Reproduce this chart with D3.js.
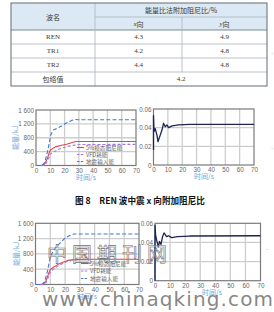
<!DOCTYPE html>
<html>
<head>
<meta charset="utf-8">
<script src="https://cdn.jsdelivr.net/npm/d3@7"></script>
<style>
  html, body { margin: 0; padding: 0; background: #fff; }
  svg { display: block; }
</style>
</head>
<body>
<svg id="fig" width="274" height="312"></svg>
<script>
// table values
const tableHead = ['能量比法附加阻尼比/%'];
const tableCols = ['x向', 'y向'];
const waveNames = ['REN', 'TR1', 'TR2'];
const ratioX = ['4.3', '4.2', '4.4'];
const ratioY = ['4.9', '4.8', '4.8'];
const envelope = '4.2';

// time axis / ticks
const timeTicks = [0, 10, 20, 30, 40, 50, 60, 70];
const energyTicks = [0, 400, 800, 1200, 1600];
const dampTicks = [0, 0.02, 0.04, 0.06];
const seriesNames = ['5%模态阻尼能', 'VFD耗能', '地震输入能'];

// REN x: energy curves (kJ)
const tInput1 = [0, 4, 6, 7.5, 8.6, 10.3, 12.1, 15.6, 18, 21.5, 25, 27.3, 30, 70];
const vInput1 = [0, 0, 80, 300, 500, 880, 1020, 1090, 1140, 1230, 1300, 1325, 1320, 1320];
const tDamp1 = [0, 4, 6, 8, 9, 10, 12, 14, 18, 22, 26, 28, 70];
const vDamp1 = [0, 0, 40, 200, 340, 440, 500, 545, 585, 620, 670, 690, 690];
const tVfd1 = [0, 5, 7, 9, 10, 12, 15, 18, 22, 26, 30, 70];
const vVfd1 = [0, 0, 60, 220, 320, 390, 450, 500, 550, 580, 605, 610];

// REN x: additional damping ratio
const tRatio1 = [0, 0, 0.4, 1.2, 2.4, 3.1, 4.7, 6, 7, 8.2, 9.3, 10.5, 13, 17.5, 25, 70];
const vRatio1 = [0.016, 0.053, 0.036, 0.039, 0.032, 0.025, 0.032, 0.038, 0.0447, 0.041, 0.043, 0.040, 0.042, 0.043, 0.0435, 0.0435];

// second set (lower panels)
const tInput2 = [0, 4, 6, 8, 10, 12, 14, 17, 20, 23, 26, 70];
const vInput2 = [0, 0, 60, 330, 720, 880, 980, 1100, 1210, 1280, 1320, 1320];
const tDamp2 = [0, 5, 7, 9, 10, 12, 15, 18, 22, 26, 30, 70];
const vDamp2 = [0, 0, 80, 300, 390, 450, 520, 575, 630, 650, 660, 660];
const tVfd2 = [0, 5, 7, 9, 10, 12, 15, 18, 22, 26, 30, 70];
const vVfd2 = [0, 0, 40, 220, 320, 400, 480, 545, 610, 640, 655, 655];

const tRatio2 = [0, 0, 0.4, 1.1, 2.2, 3, 4, 5, 6, 7.7, 9, 11, 15, 23, 70];
const vRatio2 = [0, 0.058, 0.048, 0.0425, 0.0355, 0.041, 0.038, 0.046, 0.050, 0.046, 0.047, 0.045, 0.046, 0.0467, 0.047];

const svg = d3.select('#fig');
const cjk = '"Noto Sans CJK SC", "Noto Sans", sans-serif';
const serif = '"Liberation Serif", "DejaVu Serif", serif';
const sans = '"Liberation Sans", Arial, sans-serif';

svg.append('rect').attr('width', 274).attr('height', 312).attr('fill', '#fff');

// ---------- table ----------
const colX = [11, 95, 182, 267];
const rowY = [3, 17, 30, 44, 58, 72, 86];
const tbl = svg.append('g');

tbl.append('rect')
  .attr('x', colX[0]).attr('y', rowY[0])
  .attr('width', colX[3] - colX[0]).attr('height', rowY[2] - rowY[0])
  .attr('fill', '#dce9f5');

const hLines = [
  [colX[1], colX[3], rowY[1]],
  [colX[0], colX[3], rowY[2]],
  [colX[0], colX[3], rowY[3]],
  [colX[0], colX[3], rowY[4]],
  [colX[0], colX[3], rowY[5]],
];
tbl.selectAll('.hl').data(hLines).enter().append('line')
  .attr('x1', (d) => d[0]).attr('x2', (d) => d[1])
  .attr('y1', (d) => d[2]).attr('y2', (d) => d[2])
  .attr('stroke', (d, i) => (i === 1 ? '#7d8a96' : '#a9b3bc'))
  .attr('stroke-width', (d, i) => (i === 1 ? 1.2 : 0.8));

const vLines = [
  [colX[1], rowY[0], rowY[6]],
  [colX[2], rowY[1], rowY[5]],
];
tbl.selectAll('.vl').data(vLines).enter().append('line')
  .attr('x1', (d) => d[0]).attr('x2', (d) => d[0])
  .attr('y1', (d) => d[1]).attr('y2', (d) => d[2])
  .attr('stroke', '#a9b3bc').attr('stroke-width', 0.8);

tbl.append('rect')
  .attr('x', colX[0]).attr('y', rowY[0])
  .attr('width', colX[3] - colX[0]).attr('height', rowY[6] - rowY[0])
  .attr('fill', 'none').attr('stroke', '#6f7880').attr('stroke-width', 1.1);

const cellText = (x, y, txt, font, italicLead) => {
  const t = tbl.append('text')
    .attr('x', x).attr('y', y)
    .attr('text-anchor', 'middle')
    .attr('dominant-baseline', 'central')
    .attr('font-family', font)
    .attr('font-size', 7)
    .attr('fill', '#3a3a3a');
  if (italicLead) {
    t.append('tspan').attr('font-style', 'italic').attr('font-family', serif).text(txt[0]);
    t.append('tspan').text(txt.slice(1));
  } else {
    t.text(txt);
  }
};

const midC = (a, b) => (colX[a] + colX[b]) / 2;
const midR = (a, b) => (rowY[a] + rowY[b]) / 2;

cellText(midC(0, 1), midR(0, 2), '波名', cjk);
cellText(midC(1, 3), midR(0, 1), tableHead[0], cjk);
cellText(midC(1, 2), midR(1, 2), tableCols[0], cjk, true);
cellText(midC(2, 3), midR(1, 2), tableCols[1], cjk, true);
waveNames.forEach((n, i) => {
  cellText(midC(0, 1), midR(i + 2, i + 3), n, serif);
  cellText(midC(1, 2), midR(i + 2, i + 3), ratioX[i], serif);
  cellText(midC(2, 3), midR(i + 2, i + 3), ratioY[i], serif);
});
cellText(midC(0, 1), midR(5, 6), '包络值', cjk);
cellText(midC(1, 3), midR(5, 6), envelope, serif);

// ---------- panels ----------
const BLUE = '#4a78cf';
const RED = '#e0464f';
const PURPLE = '#a57ad8';
const NAVY = '#1f2552';
const LABEL = '#6ea6dc';

const zip = (t, v) => t.map((d, i) => ({ t: d, v: v[i] }));

function drawPanel(cfg) {
  const { box } = cfg;
  const g = svg.append('g');
  const x = d3.scaleLinear().domain([0, 70]).range([box.l, box.r]);
  const y = d3.scaleLinear().domain([0, cfg.yMax]).range([box.b, box.t]);

  g.selectAll('.gx').data(timeTicks.slice(1, -1)).enter().append('line')
    .attr('x1', (d) => x(d)).attr('x2', (d) => x(d))
    .attr('y1', box.t).attr('y2', box.b)
    .attr('stroke', '#cdcdcd').attr('stroke-width', 1.3);
  g.selectAll('.gy').data(cfg.yTicks.slice(1, -1)).enter().append('line')
    .attr('x1', box.l).attr('x2', box.r)
    .attr('y1', (d) => y(d)).attr('y2', (d) => y(d))
    .attr('stroke', '#cdcdcd').attr('stroke-width', 1.3);

  g.append('rect')
    .attr('x', box.l).attr('y', box.t)
    .attr('width', box.r - box.l).attr('height', box.b - box.t)
    .attr('fill', 'none').attr('stroke', '#7a7a7a').attr('stroke-width', 1.2);

  const line = d3.line().x((d) => x(d.t)).y((d) => y(d.v));
  cfg.lines.forEach((s) => {
    g.append('path')
      .attr('d', line(zip(s.t, s.v)))
      .attr('fill', 'none')
      .attr('stroke', s.color)
      .attr('stroke-width', s.width || 1.1)
      .attr('stroke-dasharray', s.dash || null)
      .attr('stroke-linejoin', 'round');
  });

  const xAxis = g.append('g')
    .attr('transform', `translate(0,${box.b})`)
    .call(d3.axisBottom(x).tickValues(timeTicks).tickSize(0).tickPadding(3));
  const yAxis = g.append('g')
    .attr('transform', `translate(${box.l},0)`)
    .call(d3.axisLeft(y).tickValues(cfg.yTicks).tickSize(0).tickPadding(2).tickFormat(cfg.yFmt));
  g.selectAll('.domain').remove();
  [xAxis, yAxis].forEach((a) => a.selectAll('text')
    .attr('font-family', sans).attr('font-size', 6.3).attr('fill', '#666'));

  g.append('text')
    .attr('x', cfg.xLabelX).attr('y', box.b + 14)
    .attr('text-anchor', 'middle')
    .attr('font-family', cjk).attr('font-size', 7).attr('fill', LABEL)
    .text('时间/s');

  if (cfg.yLabel) {
    g.append('text')
      .attr('transform', `translate(${cfg.yLabelX},${(box.t + box.b) / 2}) rotate(-90)`)
      .attr('text-anchor', 'middle').attr('dominant-baseline', 'central')
      .attr('font-family', cjk).attr('font-size', 7).attr('fill', LABEL)
      .text(cfg.yLabel);
  }

  if (cfg.legend) {
    const lg = cfg.legend;
    cfg.lines.forEach((s, i) => {
      const yy = lg.y + i * lg.dy;
      g.append('line')
        .attr('x1', lg.x).attr('x2', lg.x + 7)
        .attr('y1', yy).attr('y2', yy)
        .attr('stroke', s.color).attr('stroke-width', 1.1)
        .attr('stroke-dasharray', s.dash ? '2.5,1.2' : null);
      g.append('text')
        .attr('x', lg.x + 9).attr('y', yy)
        .attr('dominant-baseline', 'central')
        .attr('font-family', cjk).attr('font-size', 5.6).attr('fill', '#666')
        .text(seriesNames[i]);
    });
  }
}

const fmtEnergy = (d) => (d >= 1000 ? d3.format(',')(d).replace(',', ' ') : String(d));
const fmtRatio = (d) => (d === 0 ? '0' : d3.format('.2f')(d));

drawPanel({
  box: { l: 36, r: 136, t: 110, b: 165.5 },
  yMax: 1600, yTicks: energyTicks, yFmt: fmtEnergy,
  yLabel: '能量/kJ', yLabelX: 15, xLabelX: 86,
  lines: [
    { t: tDamp1, v: vDamp1, color: RED },
    { t: tVfd1, v: vVfd1, color: PURPLE, dash: '3,2' },
    { t: tInput1, v: vInput1, color: BLUE, dash: '4,2.2' },
  ],
  legend: { x: 77, y: 147.5, dy: 7 },
});

drawPanel({
  box: { l: 153.5, r: 254, t: 109, b: 165 },
  yMax: 0.06, yTicks: dampTicks, yFmt: fmtRatio,
  xLabelX: 204,
  lines: [{ t: tRatio1, v: vRatio1, color: NAVY, width: 1.3 }],
});

drawPanel({
  box: { l: 35.5, r: 139, t: 223.3, b: 284.5 },
  yMax: 1600, yTicks: energyTicks, yFmt: fmtEnergy,
  yLabel: '能量/kJ', yLabelX: 16, xLabelX: 87,
  lines: [
    { t: tDamp2, v: vDamp2, color: RED },
    { t: tVfd2, v: vVfd2, color: PURPLE, dash: '3,2' },
    { t: tInput2, v: vInput2, color: BLUE, dash: '4,2.2' },
  ],
  legend: { x: 81, y: 263.5, dy: 7.5 },
});

drawPanel({
  box: { l: 155, r: 260.5, t: 223.3, b: 280.7 },
  yMax: 0.06, yTicks: dampTicks, yFmt: fmtRatio,
  xLabelX: 212,
  lines: [{ t: tRatio2, v: vRatio2, color: NAVY, width: 1.3 }],
});

// caption
svg.append('text')
  .attr('x', 140).attr('y', 200)
  .attr('text-anchor', 'middle').attr('dominant-baseline', 'central')
  .attr('font-family', cjk).attr('font-size', 8.6).attr('font-weight', 'bold')
  .attr('fill', '#111')
  .text('图 8　REN 波中震 x 向附加阻尼比');

// stray marks at right edge
[[272, 52], [272, 147], [267, 248]].forEach((p) => {
  svg.append('text').attr('x', p[0]).attr('y', p[1])
    .attr('text-anchor', 'middle').attr('dominant-baseline', 'central')
    .attr('font-family', sans).attr('font-size', 6).attr('fill', '#444').text('.');
});

// watermark
svg.append('text')
  .attr('x', 47).attr('y', 262)
  .attr('font-family', cjk).attr('font-size', 20)
  .attr('letter-spacing', 5)
  .attr('fill', 'rgba(255,255,255,0.35)').attr('stroke', '#6e6e6e').attr('stroke-width', 0.6)
  .text('中国期刊网');

svg.append('text')
  .attr('x', 42).attr('y', 306)
  .attr('font-family', '"DejaVu Sans", sans-serif').attr('font-size', 20)
  .attr('textLength', 231).attr('lengthAdjust', 'spacing')
  .attr('fill', '#707070').attr('fill-opacity', 0.85)
  .text('www.chinaqking.com');
</script>
</body>
</html>
